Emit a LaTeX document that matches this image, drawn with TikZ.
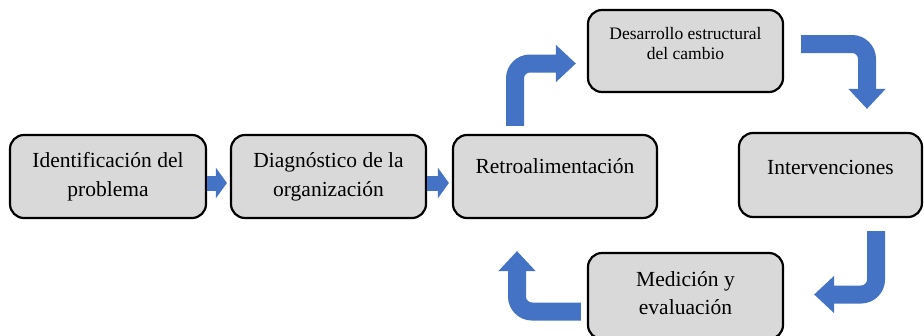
\documentclass[tikz,border=0pt]{standalone}
\usepackage{fontspec}
\setmainfont{Liberation Serif}
\usetikzlibrary{arrows.meta}
\definecolor{boxgray}{HTML}{D9D9D9}
\definecolor{arrowblue}{HTML}{4472C4}
\begin{document}
\begin{tikzpicture}[x=1pt, y=-1pt,
	stepbox/.style={draw, line width=2.2pt, rounded corners=14pt, fill=boxgray, align=center, inner sep=0pt, font=\fontsize{21.5}{29}\selectfont},
	flow/.style={draw=arrowblue, line width=15pt, -{Triangle[length=11pt,width=30pt]}},
	bent/.style={draw=arrowblue, line width=18pt, rounded corners=15pt, -{Triangle[length=20pt,width=36pt]}}]
		\useasboundingbox (0,0) rectangle (924,335);
		\node [stepbox, minimum width=196pt, minimum height=83pt] (ident) at (108,176.5) {Identificación del\\problema};
		\node [stepbox, minimum width=195pt, minimum height=83pt] (diag) at (328.5,176.5) {Diagnóstico de la\\organización};
		\node [stepbox, minimum width=204pt, minimum height=83pt, text depth=20pt] (retro) at (555,176.5) {Retroalimentación};
		\node [stepbox, minimum width=195pt, minimum height=82pt, font=\fontsize{17.5}{20}\selectfont, text depth=16pt] (desarrollo) at (685.5,51) {Desarrollo estructural\\del cambio};
		\node [stepbox, minimum width=183pt, minimum height=84pt, text depth=16pt] (interv) at (830.5,175) {Intervenciones};
		\node [stepbox, minimum width=195pt, minimum height=86pt, font=\fontsize{21.5}{28}\selectfont, text depth=5pt] (medicion) at (685.5,296) {Medición y\\evaluación};
		%\draw (0,0) rectangle (924,335);
		\draw [flow, shorten >=3pt] ([yshift=-6.5pt]ident.east) -- ([yshift=-6.5pt]diag.west);
		\draw [flow, shorten >=3pt] ([yshift=-6.5pt]diag.east) -- ([yshift=-6.5pt]retro.west);
		\draw [bent, shorten >=11pt] ([xshift=-40pt,yshift=8pt]retro.north) |- ([yshift=-12.5pt]desarrollo.west);
		\draw [bent, shorten >=23pt] ([xshift=17pt,yshift=7pt]desarrollo.east) -| ([xshift=36.5pt]interv.north);
		\draw [bent, shorten >=30pt] ([xshift=45.5pt,yshift=-13pt]interv.south) |- ([yshift=1.5pt]medicion.east);
		\draw [bent, shorten >=32pt] ([xshift=-6pt,yshift=-15.5pt]medicion.west) -| ([xshift=-38pt]retro.south);
	\end{tikzpicture}
\end{document}
